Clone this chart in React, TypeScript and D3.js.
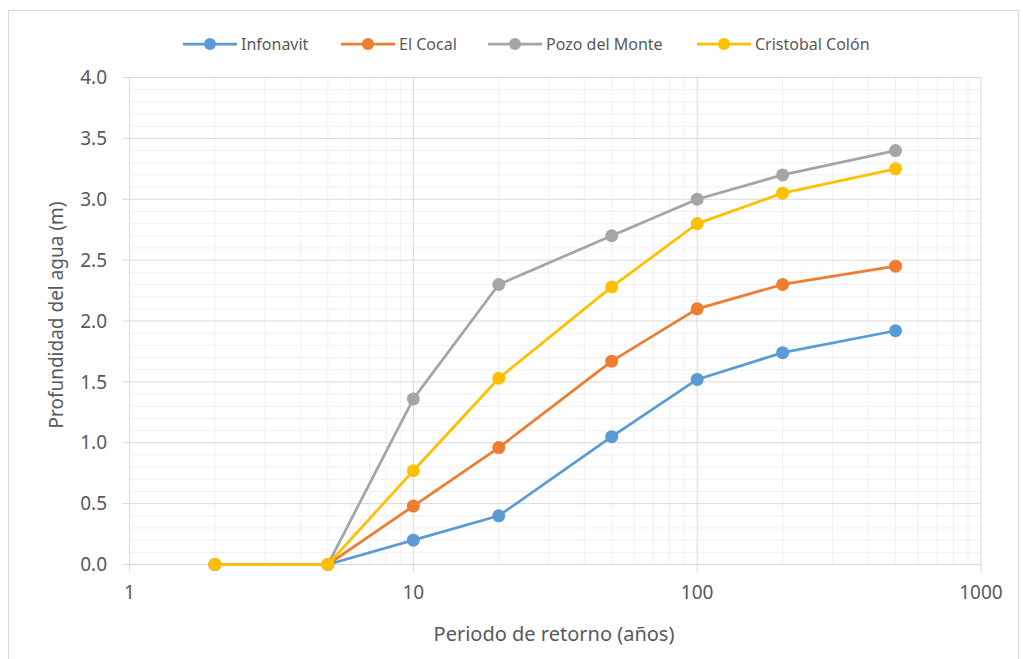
import React from "react";
import * as d3 from "d3";

const periods = [2, 5, 10, 20, 50, 100, 200, 500];
const infonavit = [0, 0, 0.2, 0.4, 1.05, 1.52, 1.74, 1.92];
const elCocal = [0, 0, 0.48, 0.96, 1.67, 2.1, 2.3, 2.45];
const pozoDelMonte = [0, 0, 1.36, 2.3, 2.7, 3.0, 3.2, 3.4];
const cristobalColon = [0, 0, 0.77, 1.53, 2.28, 2.8, 3.05, 3.25];
const seriesNames = ["Infonavit", "El Cocal", "Pozo del Monte", "Cristobal Colón"];
const seriesColors = ["#5b9bd5", "#ed7d31", "#a5a5a5", "#ffc000"];
const yTicks = [0, 0.5, 1, 1.5, 2, 2.5, 3, 3.5, 4];
const xTicks = [1, 10, 100, 1000];
const legendX = [183, 341, 488, 697];

export default function App() {
  const W = 1023, H = 659;
  const left = 129.5, right = 981, top = 77.5, bottom = 564.5;
  const x = d3.scaleLog().domain([1, 1000]).range([left, right]);
  const y = d3.scaleLinear().domain([0, 4]).range([bottom, top]);
  const allSeries = [infonavit, elCocal, pozoDelMonte, cristobalColon];
  const line = d3
    .line<[number, number]>()
    .x((d) => x(d[0]))
    .y((d) => y(d[1]));

  const minorX: number[] = [];
  for (const dec of [1, 10, 100]) for (let k = 2; k <= 9; k++) minorX.push(dec * k);
  const minorY = d3.range(0, 41).map((i) => i / 10).filter((v) => Math.round(v * 10) % 5 !== 0);

  const font = "'Noto Sans', sans-serif";
  const textColor = "#595959";

  return (
    <svg width={W} height={H} style={{ position: "absolute", left: 0, top: 0, background: "#fff" }} fontFamily={font}>
      <rect x={8.5} y={10.5} width={1010} height={660} fill="#fff" stroke="#d9d9d9" strokeWidth={1} />
      {minorY.map((v) => (
        <line key={"my" + v} x1={left} x2={right} y1={y(v)} y2={y(v)} stroke="#f0f0f0" strokeWidth={1} />
      ))}
      {minorX.map((v) => (
        <line key={"mx" + v} x1={x(v)} x2={x(v)} y1={top} y2={bottom} stroke="#f0f0f0" strokeWidth={1} />
      ))}
      {yTicks.map((v) => (
        <line key={"gy" + v} x1={left - 7} x2={right} y1={y(v)} y2={y(v)} stroke="#d9d9d9" strokeWidth={1} />
      ))}
      {xTicks.map((v) => (
        <line key={"gx" + v} x1={x(v)} x2={x(v)} y1={top} y2={bottom + 7} stroke="#d9d9d9" strokeWidth={1} />
      ))}
      {yTicks.map((v) => (
        <text key={"ty" + v} x={107} y={y(v)} dy="0.35em" textAnchor="end" fontSize={19} fill={textColor}>
          {v.toFixed(1)}
        </text>
      ))}
      {xTicks.map((v) => (
        <text key={"tx" + v} x={x(v)} y={599} textAnchor="middle" fontSize={19} fill={textColor}>
          {String(v)}
        </text>
      ))}
      <text x={554} y={641} textAnchor="middle" fontSize={20} fill={textColor}>
        Periodo de retorno (años)
      </text>
      <text transform={`translate(63,315) rotate(-90)`} textAnchor="middle" fontSize={19} fill={textColor}>
        Profundidad del agua (m)
      </text>
      {allSeries.map((vals, i) => {
        const pts = periods.map((p, j) => [p, vals[j]] as [number, number]);
        return (
          <g key={"s" + i}>
            <path d={line(pts) || ""} fill="none" stroke={seriesColors[i]} strokeWidth={2.75} strokeLinejoin="round" />
            {pts.map((d, j) => (
              <circle key={j} cx={x(d[0])} cy={y(d[1])} r={6.5} fill={seriesColors[i]} />
            ))}
          </g>
        );
      })}
      {seriesNames.map((name, i) => (
        <g key={"l" + i}>
          <line x1={legendX[i]} x2={legendX[i] + 54} y1={44} y2={44} stroke={seriesColors[i]} strokeWidth={2.75} />
          <circle cx={legendX[i] + 27} cy={44} r={6} fill={seriesColors[i]} />
          <text x={legendX[i] + 58} y={44} dy="0.35em" fontSize={16} fill={textColor}>
            {name}
          </text>
        </g>
      ))}
    </svg>
  );
}
